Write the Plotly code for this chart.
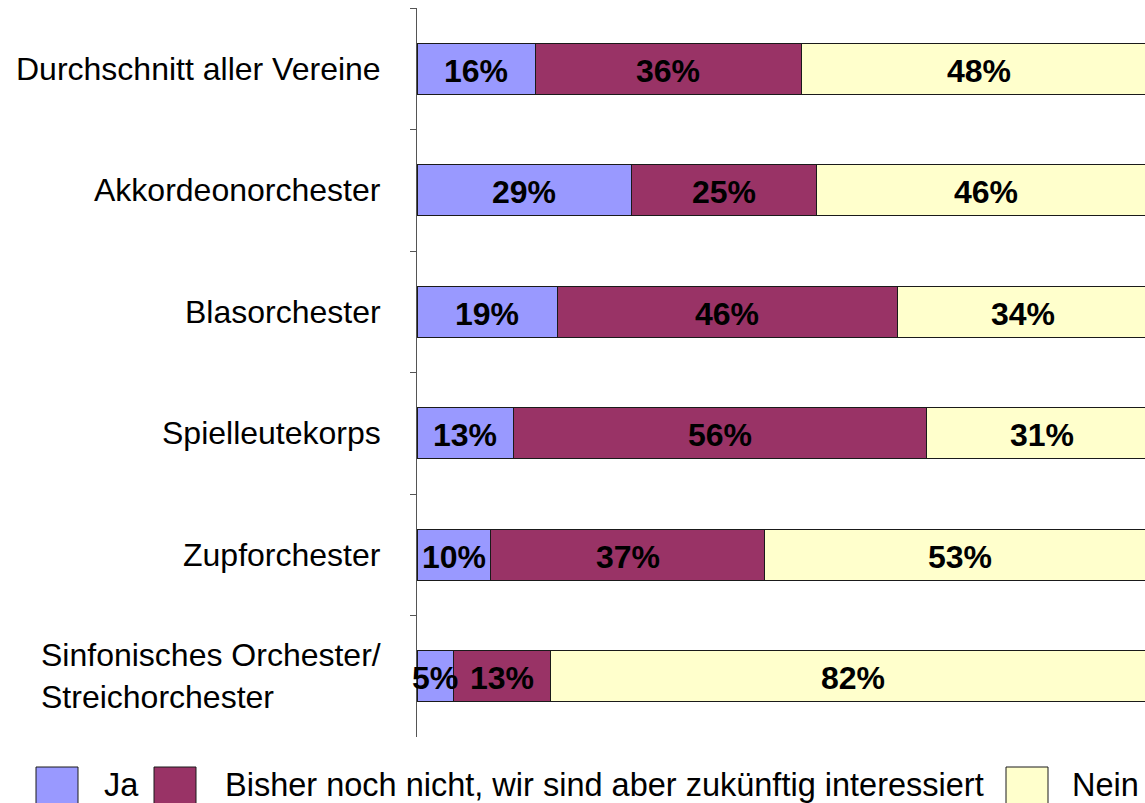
import plotly.graph_objects as go

# Survey results per ensemble type (share of answers, %)
categories = [
    "Durchschnitt aller Vereine",
    "Akkordeonorchester",
    "Blasorchester",
    "Spielleutekorps",
    "Zupforchester",
    "Sinfonisches Orchester/<br>Streichorchester",
]
series_names = ["Ja", "Bisher noch nicht, wir sind aber zukünftig interessiert", "Nein"]
ja = [16, 29, 19, 13, 10, 5]
bisher = [36, 25, 46, 56, 37, 13]
nein = [48, 46, 34, 31, 53, 82]
series_values = [ja, bisher, nein]
colors = ["#9999FF", "#993366", "#FFFFCC"]

FONT = "Liberation Sans, Arial, sans-serif"
W, H = 1145, 803
ML, MR, MT, MB = 417, 0, 8, 66
PW, PH = W - ML - MR, H - MT - MB


def px_x(x):
    return (x - ML) / PW


def px_y(y):
    return (H - MB - y) / PH


fig = go.Figure()
for name, vals, col in zip(series_names, series_values, colors):
    fig.add_trace(go.Bar(
        y=categories, x=vals, name=name, orientation="h",
        marker=dict(color=col, line=dict(color="#1a1a1a", width=1)),
        showlegend=False, hoverinfo="x+name",
    ))

# Percentage labels centred in each segment
annotations = []
for i, cat in enumerate(categories):
    start = 0
    for vals in series_values:
        v = vals[i]
        annotations.append(dict(
            x=start + v / 2, y=cat, xref="x", yref="y", text=f"{v}%",
            showarrow=False, xanchor="center", yanchor="middle", yshift=-2,
            font=dict(family=FONT, size=32, color="black", weight="bold"),
        ))
        start += v

# Category labels left of the axis
for cat in categories:
    annotations.append(dict(
        x=0, y=cat, xref="x", yref="y", text=cat, showarrow=False,
        xanchor="right", yanchor="middle", align="left", xshift=-34,
        font=dict(family=FONT, size=32, color="black"),
    ))

# Legend row at the bottom
box_left = [36, 154, 1006]
text_left = [102, 223, 1070]
shapes = []
for name, col, bx, tx in zip(series_names, colors, box_left, text_left):
    shapes.append(dict(
        type="rect", xref="paper", yref="paper",
        x0=px_x(bx), x1=px_x(bx + 42), y0=px_y(767), y1=px_y(820),
        fillcolor=col, line=dict(color="#1a1a1a", width=1), layer="above",
    ))
    annotations.append(dict(
        x=px_x(tx), y=px_y(785), xref="paper", yref="paper", text=name,
        showarrow=False, xanchor="left", yanchor="middle",
        font=dict(family=FONT, size=32.5, color="black"),
    ))

fig.update_layout(
    barmode="stack",
    bargap=0.583,
    width=W, height=H,
    margin=dict(l=ML, r=MR, t=MT, b=MB),
    paper_bgcolor="white", plot_bgcolor="white",
    annotations=annotations,
    shapes=shapes,
    xaxis=dict(range=[0, 98.5], visible=False, fixedrange=True),
    yaxis=dict(
        autorange="reversed", showticklabels=False, showgrid=False,
        showline=True, linecolor="#555555", linewidth=1,
        ticks="outside", ticklen=6, tickcolor="#555555", tickson="boundaries",
        zeroline=False,
    ),
)

fig.write_html("out.html", post_script="document.body.style.margin='0';")
